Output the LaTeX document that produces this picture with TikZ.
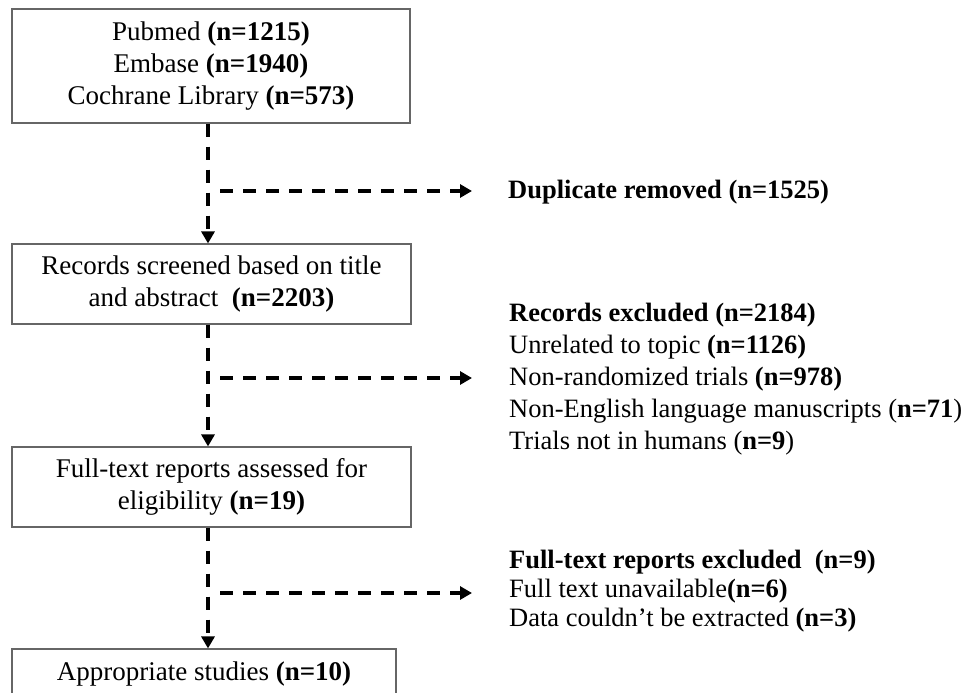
\documentclass[tikz,border=0pt]{standalone}
\usepackage{fontspec}
\setmainfont{Liberation Serif}
\usetikzlibrary{arrows.meta}
\begin{document}
\begin{tikzpicture}[x=1pt,y=-1pt,
  stagebox/.style={draw=black!60,line width=1.1pt,inner sep=0pt,align=center,
    font=\fontsize{27}{32}\selectfont},
  sidetext/.style={inner sep=0pt,anchor=west,align=left,
    font=\fontsize{26.5}{32}\selectfont},
  flowline/.style={line width=3.5pt,dash pattern=on 13pt off 10pt,
    -{Triangle[length=12pt,width=13pt]}}]
\useasboundingbox (0,0) rectangle (966,693);
\clip (0,0) rectangle (966,693);
\fill[white] (0,0) rectangle (966,693);

\node[stagebox,minimum width=398pt,minimum height=114pt] (b1) at (211,66)
  {Pubmed \textbf{(n=1215)}\\Embase \textbf{(n=1940)}\\Cochrane Library \textbf{(n=573)}};
\node[stagebox,minimum width=399pt,minimum height=80pt] (b2) at (211.5,284)
  {Records screened based on title\\and abstract\ \ \textbf{(n=2203)}};
\node[stagebox,minimum width=399pt,minimum height=80pt] (b3) at (211.5,487)
  {Full-text reports assessed for\\eligibility \textbf{(n=19)}};
\node[stagebox,minimum width=384pt,minimum height=50pt] (b4) at (204,674)
  {Appropriate studies \textbf{(n=10)}};

\node[sidetext] (dup) at (508,192) {\textbf{Duplicate removed (n=1525)}};
\node[sidetext] (rex) at (509,379)
  {\textbf{Records excluded (n=2184)}\\
   Unrelated to topic \textbf{(n=1126)}\\
   Non-randomized trials \textbf{(n=978)}\\
   Non-English language manuscripts (\textbf{n=71})\\
   Trials not in humans (\textbf{n=9})};
\node[sidetext,font=\fontsize{26.5}{29}\selectfont] (fex) at (509,591)
  {\textbf{Full-text reports excluded\ \ (n=9)}\\
   Full text unavailable\textbf{(n=6)}\\
   Data couldn't be extracted \textbf{(n=3)}};

\coordinate (sp) at (208,0);
\coordinate (s1) at (220,191);
\coordinate (t1) at (472,191);
\coordinate (s2) at (220,378);
\coordinate (t2) at (472,378);
\coordinate (s3) at (220,593);
\coordinate (t3) at (472,593);

\draw[flowline] (b1.south -| sp) -- (b2.north -| sp);
\draw[flowline] (b2.south -| sp) -- (b3.north -| sp);
\draw[flowline] (b3.south -| sp) -- (b4.north -| sp);
\draw[flowline] (s1) -- (t1);
\draw[flowline] (s2) -- (t2);
\draw[flowline] (s3) -- (t3);
\end{tikzpicture}
\end{document}
